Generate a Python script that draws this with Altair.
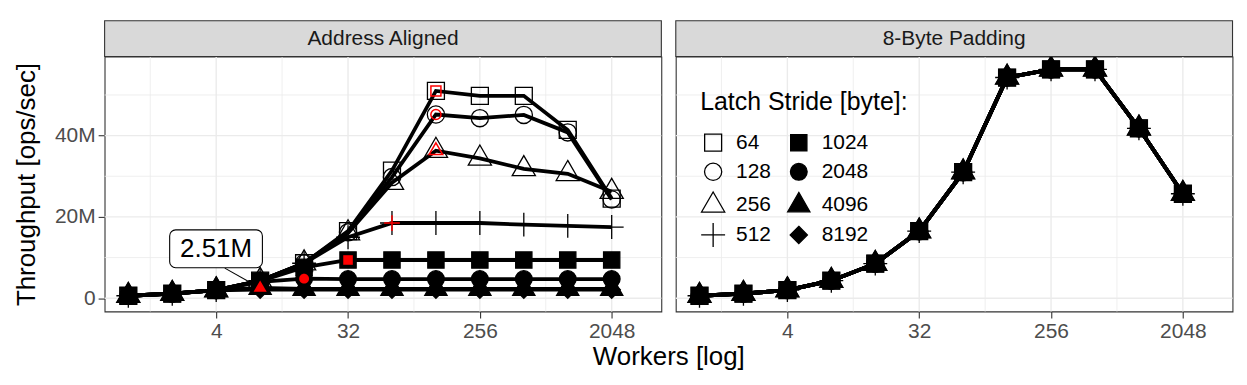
import altair as alt
import pandas as pd

# ---------------- data ----------------
workers = [1, 2, 4, 8, 16, 32, 64, 128, 256, 512, 1024, 2048]
strides = ["64", "128", "256", "512", "1024", "2048", "4096", "8192"]

# Address Aligned panel, throughput in M ops/sec
aligned_64 = [0.6, 1.1, 2.0, 4.3, 8.6, 16.5, 31.4, 51.0, 49.8, 49.8, 41.4, 24.5]
aligned_128 = [0.6, 1.1, 2.0, 4.3, 8.6, 16.2, 29.8, 45.2, 44.3, 45.1, 40.8, 24.3]
aligned_256 = [0.6, 1.1, 2.0, 4.3, 8.6, 16.0, 28.4, 36.3, 34.4, 31.8, 30.6, 26.2]
aligned_512 = [0.6, 1.1, 2.0, 4.3, 8.6, 15.0, 18.5, 18.5, 18.5, 18.1, 17.8, 17.5]
aligned_1024 = [0.6, 1.1, 2.0, 4.2, 7.6, 9.4, 9.4, 9.4, 9.4, 9.4, 9.4, 9.4]
aligned_2048 = [0.6, 1.1, 2.0, 4.0, 4.8, 4.7, 4.7, 4.7, 4.7, 4.7, 4.7, 4.7]
aligned_4096 = [0.6, 1.1, 2.0, 2.51, 2.3, 2.3, 2.3, 2.3, 2.3, 2.3, 2.3, 2.3]
aligned_8192 = [0.6, 1.1, 1.9, 2.1, 2.1, 2.1, 2.1, 2.1, 2.1, 2.1, 2.1, 2.1]

# 8-Byte Padding panel (all strides overlap)
padded_all = [0.6, 1.1, 2.0, 4.3, 8.5, 16.5, 31.0, 54.3, 56.3, 56.3, 41.8, 25.7]

aligned = [aligned_64, aligned_128, aligned_256, aligned_512,
           aligned_1024, aligned_2048, aligned_4096, aligned_8192]
highlighted = ["64", "128", "256", "512", "1024", "2048", "4096"]

panel_titles = ["Address Aligned", "8-Byte Padding"]
x_ticks = [4, 32, 256, 2048]
x_minor = [1.414, 11.31, 90.51, 724.1]
y_ticks = [0, 20, 40]
y_minor = [10, 30, 50]

label_text = ["2.51M"]
label_pos_x = [3.99]
label_pos_y = [12.15]
label_box_x = [1.92, 8.29]
label_box_y = [7.5, 16.8]
label_seg_x = [4.58, 7.35]
label_seg_y = [7.4, 3.26]

# ---------------- styling ----------------
W, H = 559, 256
FONT = "Liberation Sans"
SQ = "M-0.71,-0.71H0.71V0.71H-0.71Z"
CI = "M0.72,0A0.72,0.72,0,1,1,-0.72,0A0.72,0.72,0,1,1,0.72,0Z"
TR = "M0,-1.12L0.97,0.56L-0.97,0.56Z"
CROSS = "M-1,0H1M0,-1V1"
SQF = "M-0.68,-0.68H0.68V0.68H-0.68Z"
CIF = "M0.7,0A0.7,0.7,0,1,1,-0.7,0A0.7,0.7,0,1,1,0.7,0Z"
TRF = "M0,-1.08L0.93,0.54L-0.93,0.54Z"
DI = "M0,-0.72L0.72,0L0,0.72L-0.72,0Z"
shape_of = dict(zip(strides, [SQ, CI, TR, CROSS, SQF, CIF, TRF, DI]))
fill_of = dict(zip(strides, ["transparent"] * 4 + ["black"] * 4))
legend_order = strides

xs = alt.Scale(type="log", base=2, domain=[0.688, 4482], nice=False)
ys = alt.Scale(domain=[-3.28, 59.46], nice=False, zero=False)


def x_axis(title):
    kw = dict(values=x_ticks, labelExpr="format(datum.value, 'd')", grid=False,
              domain=False, tickColor="#333333", tickWidth=1.1, tickSize=6.5,
              labelColor="#4D4D4D", labelFontSize=21, labelPadding=3,
              labelFont=FONT, labelOverlap=False, labelFlush=False)
    if title:
        kw.update(title=title, titleFontSize=26, titleFontWeight="normal",
                  titleColor="black", titleFont=FONT, titlePadding=2,
                  titleX=566, titleAlign="center")
    else:
        kw.update(title=None)
    return alt.Axis(**kw)


def y_axis(show):
    if not show:
        return None
    return alt.Axis(values=y_ticks,
                    labelExpr="datum.value == 0 ? '0' : datum.value + 'M'",
                    grid=False, domain=False, tickColor="#333333", tickWidth=1.1,
                    tickSize=6.5, labelColor="#4D4D4D", labelFontSize=21,
                    labelPadding=3, labelFont=FONT, title="Throughput [ops/sec]",
                    titleFontSize=26, titleFontWeight="normal", titleColor="black",
                    titleFont=FONT, titlePadding=15)


def panel(series, title, left):
    rows = []
    for s, vals in zip(strides, series):
        for w, v in zip(workers, vals):
            rows.append({"workers": w, "value": v, "stride": s})
    df = pd.DataFrame(rows)
    xa = x_axis("Workers [log]" if left else None)
    ya = y_axis(left)
    X = lambda f: alt.X(f, scale=xs, axis=xa)
    Y = lambda f: alt.Y(f, scale=ys, axis=ya)

    layers = []
    layers.append(alt.Chart(pd.DataFrame({"g": x_minor})).mark_rule(
        color="#EBEBEB", strokeWidth=0.8).encode(x=X("g:Q")))
    layers.append(alt.Chart(pd.DataFrame({"g": x_ticks})).mark_rule(
        color="#EBEBEB", strokeWidth=1.4).encode(x=X("g:Q")))
    layers.append(alt.Chart(pd.DataFrame({"g": y_minor})).mark_rule(
        color="#EBEBEB", strokeWidth=0.8).encode(y=Y("g:Q")))
    layers.append(alt.Chart(pd.DataFrame({"g": y_ticks})).mark_rule(
        color="#EBEBEB", strokeWidth=1.4).encode(y=Y("g:Q")))

    layers.append(alt.Chart(df).mark_line(color="black", strokeWidth=3.8).encode(
        x=X("workers:Q"), y=Y("value:Q"), detail="stride:N"))

    if left:
        legend = None
    else:
        legend = alt.Legend(title="Latch Stride [byte]:", orient="none",
                            legendX=24.5, legendY=34, columns=2,
                            titleFontSize=25, titleFontWeight="normal",
                            titleColor="black", titleFont=FONT, titlePadding=14,
                            labelFontSize=21, labelColor="black", labelFont=FONT,
                            labelOffset=10, rowPadding=4.7, columnPadding=13,
                            symbolSize=576, symbolStrokeWidth=1.3, symbolOpacity=1,
                            titleLimit=0, labelLimit=0)
    layers.append(alt.Chart(df).mark_point(
        opacity=1, strokeWidth=1.3, size=576).encode(
        x=X("workers:Q"), y=Y("value:Q"),
        shape=alt.Shape("stride:N", scale=alt.Scale(
            domain=legend_order, range=[shape_of[s] for s in legend_order]),
            legend=legend),
        fill=alt.Fill("stride:N", scale=alt.Scale(
            domain=legend_order, range=[fill_of[s] for s in legend_order]),
            legend=legend),
        stroke=alt.Stroke("stride:N", scale=alt.Scale(
            domain=legend_order, range=["black"] * len(legend_order)),
            legend=legend)))

    if left:
        for s in highlighted:
            sub = df[df.stride == s]
            peak = sub.loc[[sub.value.idxmax()]]
            is_filled = fill_of[s] != "transparent"
            layers.append(alt.Chart(peak).mark_point(
                shape=shape_of[s], size=250 if s == "512" else 200, opacity=1,
                filled=is_filled, color="red", strokeWidth=1.5).encode(
                x=X("workers:Q"), y=Y("value:Q")))

        seg = pd.DataFrame({"x": [label_seg_x[0]], "x2": [label_seg_x[1]],
                            "y": [label_seg_y[0]], "y2": [label_seg_y[1]]})
        layers.append(alt.Chart(seg).mark_rule(color="black", strokeWidth=1.1).encode(
            x=X("x:Q"), x2="x2:Q", y=Y("y:Q"), y2="y2:Q"))
        box = pd.DataFrame({"x": [label_box_x[0]], "x2": [label_box_x[1]],
                            "y": [label_box_y[0]], "y2": [label_box_y[1]]})
        layers.append(alt.Chart(box).mark_rect(
            fill="white", stroke="black", strokeWidth=1.1, cornerRadius=6).encode(
            x=X("x:Q"), x2="x2:Q", y=Y("y:Q"), y2="y2:Q"))
        lab = pd.DataFrame({"x": label_pos_x, "y": label_pos_y, "t": label_text})
        layers.append(alt.Chart(lab).mark_text(
            fontSize=26, color="black", font=FONT).encode(
            x=X("x:Q"), y=Y("y:Q"), text="t:N"))

    strip = pd.DataFrame({"t": [title]})
    layers.append(alt.Chart(strip).mark_rect(
        fill="#D9D9D9", stroke="#333333", strokeWidth=1.1).encode(
        x=alt.value(0), x2=alt.value(W), y=alt.value(-36), y2=alt.value(0)))
    layers.append(alt.Chart(strip).mark_text(
        fontSize=21, color="#1A1A1A", font=FONT).encode(
        x=alt.value(W / 2), y=alt.value(-18), text="t:N"))

    return alt.layer(*layers).properties(width=W, height=H)


left = panel(aligned, panel_titles[0], True)
right = panel([padded_all] * len(strides), panel_titles[1], False)

chart = alt.hconcat(left, right, spacing=14.5, bounds="flush").resolve_scale(
    shape="independent", fill="independent", stroke="independent").configure(
    font=FONT, background="white",
    padding={"left": 5, "top": 10, "right": 5, "bottom": 5}).configure_view(
    stroke="#333333", strokeWidth=1.1, fill="white")

chart.save("out.html", embed_options={"renderer": "svg", "actions": False})
